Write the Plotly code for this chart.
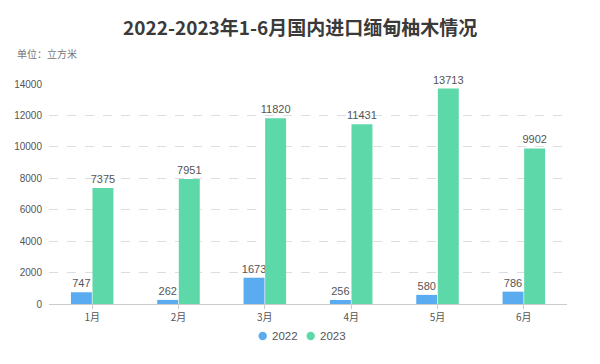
import plotly.graph_objects as go

months = ["1月", "2月", "3月", "4月", "5月", "6月"]
v2022 = [747, 262, 1673, 256, 580, 786]
v2023 = [7375, 7951, 11820, 11431, 13713, 9902]
series_names = ["2022", "2023"]
colors = ["#5AABF0", "#5DD8A9"]

fig = go.Figure()
for name, vals, c in zip(series_names, [v2022, v2023], colors):
    fig.add_trace(go.Bar(
        x=months, y=vals, name=name, marker=dict(color=c, line=dict(width=0)),
        text=[str(v) for v in vals], textposition="outside", cliponaxis=False,
        constraintext="none",
        textfont=dict(size=11, color="#555555", family="Liberation Sans, Arial"),
        showlegend=False,
    ))

# plot area in figure px (body margin of page is 8px)
PL, PR, PT, PB = 41, 41, 76, 68
PW, PH = 600 - PL - PR, 364 - PT - PB

def px_x(fx):
    return (fx - PL) / PW

def px_y(fy):
    return (364 - PB - fy) / PH

annotations = [dict(text="单位：立方米", xref="paper", yref="paper", x=px_x(7), y=px_y(45),
                    xanchor="left", yanchor="middle", showarrow=False,
                    font=dict(size=10, color="#777777", family="Noto Sans CJK SC"))]
shapes = []
legend_centers = [254.7, 302.7]  # circle centers in figure px
for name, c, cx in zip(series_names, colors, legend_centers):
    cy = 328
    r = 4.2
    shapes.append(dict(type="circle", xref="paper", yref="paper",
                       x0=px_x(cx - r), x1=px_x(cx + r), y0=px_y(cy + r), y1=px_y(cy - r),
                       fillcolor=c, line=dict(width=0)))
    annotations.append(dict(text=name, xref="paper", yref="paper", x=px_x(cx + 7.5), y=px_y(cy),
                            xanchor="left", yanchor="middle", showarrow=False,
                            font=dict(size=11.5, color="#555555", family="Liberation Sans, Arial")))

fig.update_layout(
    width=600, height=364,
    paper_bgcolor="white", plot_bgcolor="white",
    margin=dict(l=PL, r=PR, t=PT, b=PB, autoexpand=False),
    barmode="group", bargap=0.5, bargroupgap=0.03,
    uniformtext=dict(minsize=11, mode="show"),
    showlegend=False,
    title=dict(text="<b>2022-2023年1-6月国内进口缅甸柚木情况</b>", x=0.487, xanchor="center",
               xref="container", y=0.945, yanchor="middle", yref="container",
               font=dict(size=19, color="#3a3a3a", family="Noto Sans CJK SC")),
    annotations=annotations,
    shapes=shapes,
    font=dict(family="Noto Sans CJK SC"),
)
fig.update_xaxes(showline=True, linecolor="#cccccc", linewidth=1, ticks="outside",
                 ticklen=4, tickcolor="#cccccc",
                 tickfont=dict(size=10, color="#555555", family="Noto Sans CJK SC"))
fig.update_yaxes(range=[0, 14000], dtick=2000, tickformat="d", showgrid=True,
                 gridcolor="#dddddd", griddash="dash", zeroline=False, ticks="",
                 ticklabelstandoff=6,
                 tickfont=dict(size=10, color="#555555", family="Liberation Sans, Arial"))

fig.write_html("out.html")
